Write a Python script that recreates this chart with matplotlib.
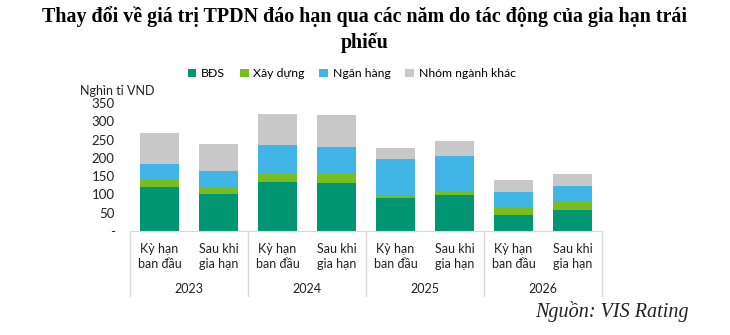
"""Stacked bars of corporate bond maturities, before and after extension."""

import numpy as np
import matplotlib.pyplot as plt
from matplotlib.transforms import blended_transform_factory

SANS = ['Lato', 'DejaVu Sans']
SERIF = ['Liberation Serif', 'DejaVu Serif']

years = ['2023', '2024', '2025', '2026']
bar_labels = ['Kỳ hạn\nban đầu', 'Sau khi\ngia hạn'] * 4

series_names = ['BĐS', 'Xây dựng', 'Ngân hàng', 'Nhóm ngành khác']
bds = [120, 100, 134, 131, 91, 98, 44, 57]
xay_dung = [21, 20, 25, 25, 6, 9, 20, 22]
ngan_hang = [42, 43, 77, 75, 99, 98, 43, 44]
khac = [86, 74, 84, 85, 30, 42, 32, 33]

colors = ['#009672', '#78BE21', '#41B6E6', '#C8C8C8']

BAR_WIDTH = 0.66

fig = plt.figure(figsize=(7.3, 3.35), dpi=100)
ax = fig.add_axes([130 / 730, 1 - 231 / 335, 472 / 730, 128 / 335])

x_loc = np.arange(len(bds))
bottom = np.zeros(len(bds))
for name, vals, color in zip(series_names, [bds, xay_dung, ngan_hang, khac], colors):
    ax.bar(x_loc, vals, BAR_WIDTH, bottom=bottom, color=color, label=name)
    bottom += np.array(vals)

ax.set_xlim(-0.5, len(bds) - 0.5)
ax.set_ylim(0, 350)
ax.set_yticks(range(0, 351, 50))
ax.set_yticklabels(['-'] + [str(v) for v in range(50, 351, 50)],
                   family=SANS, fontsize=9.5, color='#222222')
ax.tick_params(axis='y', length=0, pad=11)
ax.tick_params(axis='x', length=0)
ax.set_xticks([])

for side in ['top', 'right', 'left']:
    ax.spines[side].set_visible(False)
ax.spines['bottom'].set_color('#d9d9d9')

# two-level category axis: bar labels, then years, with group separators
trans = blended_transform_factory(ax.transData, ax.transAxes)
for x, lab in zip(x_loc, bar_labels):
    ax.text(x, -0.09, lab, transform=trans, ha='center', va='top',
            family=SANS, fontsize=9, color='#222222', linespacing=1.35)
for i, year in enumerate(years):
    ax.text(2 * i + 0.5, -0.41, year, transform=trans, ha='center', va='top',
            family=SANS, fontsize=9, color='#222222')
for i in range(len(years) + 1):
    ax.plot([2 * i - 0.5] * 2, [0, -0.51], transform=trans, color='#d9d9d9',
            lw=1, clip_on=False)

ax.legend(loc='lower center', bbox_to_anchor=(0.47, 1.1), ncol=4,
          frameon=False, handlelength=0.7, handleheight=0.7,
          handletextpad=0.4, columnspacing=1.2,
          prop={'family': SANS, 'size': 8.8})

fig.text(80 / 730, 1 - 91 / 335, 'Nghìn tỉ VND', family=SANS, fontsize=9,
         va='center', color='#222222')

fig.text(0.5, 1 - 17 / 335,
         'Thay đổi về giá trị TPDN đáo hạn qua các năm do tác động của gia hạn trái',
         ha='center', va='center', family=SERIF, fontsize=14.4, weight='bold')
fig.text(0.5, 1 - 43 / 335, 'phiếu', ha='center', va='center',
         family=SERIF, fontsize=14.4, weight='bold')

fig.text(689 / 730, 1 - 312 / 335, 'Nguồn: VIS Rating', ha='right', va='center',
         family=SERIF, fontsize=14.5, style='italic', color='#222222')

fig.savefig('out.png', dpi=100)
